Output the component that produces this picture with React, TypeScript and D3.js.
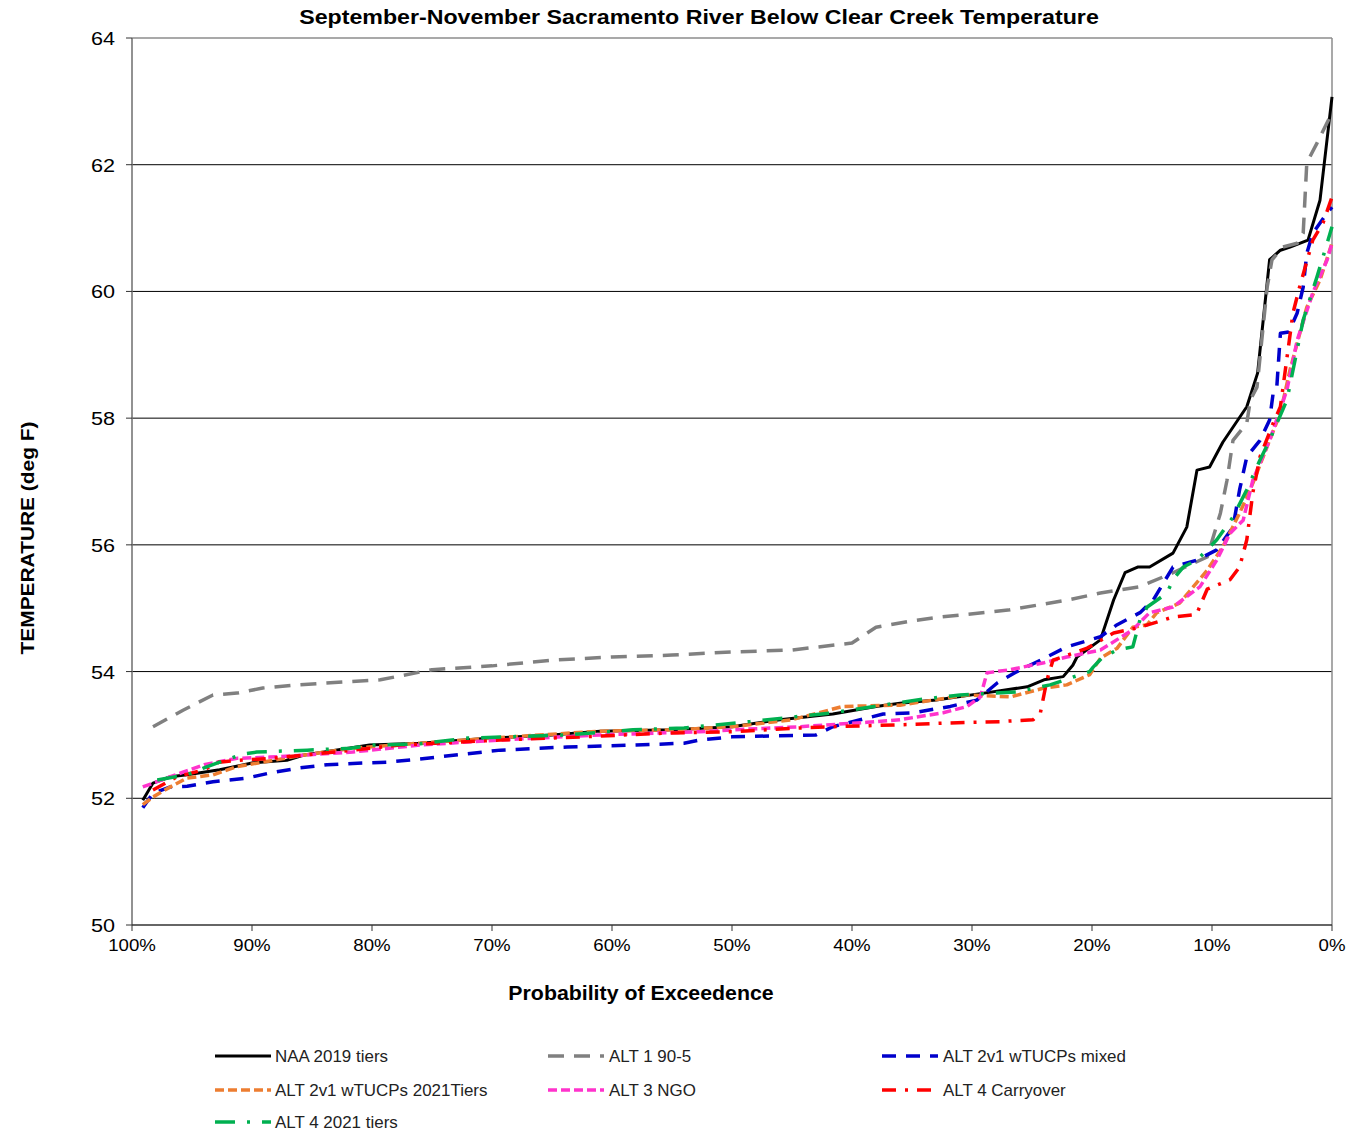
import * as d3 from "d3"

// probability of exceedence (%) vs temperature (deg F)
const naa2019Tiers: [number, number][] = [
  [99.1, 51.97], [98.25, 52.24], [96.8, 52.34], [95.4, 52.37], [92.7, 52.45], [89.9, 52.56], [87.1, 52.6],
  [85.75, 52.68], [80.2, 52.84], [76, 52.87], [70, 52.95], [65, 53.0], [61, 53.06], [55, 53.08], [50, 53.13],
  [46, 53.24], [41.6, 53.33], [38, 53.45], [36, 53.5], [33, 53.55], [29, 53.66], [25.4, 53.76], [24, 53.87],
  [22.4, 53.92], [21.6, 54.1], [21.25, 54.23], [19.3, 54.5], [18.2, 55.13], [17.25, 55.56], [16.2, 55.65],
  [15.2, 55.65], [13.25, 55.87], [12.1, 56.28], [11.25, 57.18], [10.2, 57.23], [9.1, 57.62], [7.1, 58.18],
  [6.2, 58.71], [5.2, 60.5], [4.3, 60.65], [3.5, 60.7], [2.0, 60.81], [1.0, 61.44], [0, 63.07],
]

const alt1905: [number, number][] = [
  [98.25, 53.13], [95.75, 53.39], [93.25, 53.63], [91.25, 53.66], [89.1, 53.74], [86.25, 53.79], [82, 53.84],
  [79.3, 53.87], [75, 54.03], [70, 54.09], [65, 54.18], [60, 54.23], [55, 54.26], [50, 54.31], [45, 54.34],
  [40, 54.45], [38, 54.7], [35, 54.8], [32.7, 54.86], [27, 54.97], [22, 55.13], [19.3, 55.24], [16, 55.34],
  [13.25, 55.56], [10.4, 55.81], [9.3, 56.5], [8.75, 57.02], [8.25, 57.65], [7.1, 57.92], [6.8, 58.29],
  [6.25, 58.49], [5.4, 60.07], [5, 60.5], [4.1, 60.7], [2.9, 60.76], [2.4, 60.92], [2.1, 62.03], [1.25, 62.34],
  [0, 62.82],
]

const alt2v1Mixed: [number, number][] = [
  [99.1, 51.85], [98.25, 52.08], [96.8, 52.18], [95.4, 52.19], [93.25, 52.26], [90.4, 52.32], [88.5, 52.4],
  [86, 52.48], [83.75, 52.53], [81.6, 52.55], [78.75, 52.57], [76, 52.62], [69.3, 52.76], [63.75, 52.81],
  [58, 52.84], [54, 52.87], [52.7, 52.92], [50, 52.97], [43, 53.0], [41.6, 53.13], [37.4, 53.33], [34.9, 53.35],
  [31.8, 53.45], [29.6, 53.55], [27.9, 53.82], [26.25, 54.0], [24.3, 54.18], [22.1, 54.39], [19.3, 54.55],
  [17.9, 54.74], [16, 54.93], [14.9, 55.13], [13.25, 55.65], [11.25, 55.76], [9.6, 55.92], [8.25, 56.28],
  [7.7, 56.87], [7.1, 57.39], [6, 57.65], [5.2, 57.97], [4.9, 58.4], [4.6, 58.49], [4.3, 59.34], [3.6, 59.36],
  [2.9, 59.66], [2.4, 60.07], [2.1, 60.6], [1.6, 60.92], [0.4, 61.24], [0, 61.33],
]

const alt2v12021Tiers: [number, number][] = [
  [99.1, 51.9], [98.25, 52.02], [96.8, 52.18], [95.4, 52.32], [93.25, 52.37], [91.25, 52.5], [89.1, 52.57],
  [85.75, 52.68], [81.6, 52.79], [76, 52.87], [70, 52.95], [61, 53.06], [55, 53.08], [50, 53.13], [45, 53.24],
  [40.75, 53.45], [36, 53.47], [34.3, 53.52], [30.4, 53.63], [26.8, 53.6], [24, 53.74], [22.1, 53.79],
  [20.2, 53.95], [19.3, 54.21], [17.9, 54.37], [16.6, 54.7], [15.4, 54.74], [14.6, 54.93], [12.7, 55.08],
  [10.4, 55.6], [9.1, 55.97], [7.7, 56.5], [6.6, 56.97], [5.2, 57.65], [4.3, 58.08], [3.5, 58.76], [2.1, 59.75],
  [1, 60.18], [0, 60.76],
]

const alt3Ngo: [number, number][] = [
  [99.1, 52.18], [96.8, 52.34], [94, 52.53], [91.25, 52.63], [88.5, 52.65], [85.75, 52.68], [81.6, 52.73],
  [76, 52.84], [69.3, 52.92], [61, 53.0], [52.7, 53.05], [50, 53.08], [44.3, 53.13], [38.75, 53.2], [36, 53.24],
  [32.4, 53.35], [30.4, 53.45], [29.3, 53.6], [28.75, 53.98], [26.8, 54.03], [24, 54.14], [22.1, 54.23],
  [19.3, 54.34], [16.6, 54.66], [15.2, 54.93], [13.25, 55.02], [11, 55.34], [9.6, 55.76], [8.5, 56.18],
  [7.4, 56.39], [6.6, 57.02], [5.2, 57.65], [3.75, 58.45], [2.9, 59.23], [1.6, 59.98], [0.4, 60.5], [0, 60.76],
]

const alt4Carryover: [number, number][] = [
  [98.25, 52.13], [96.25, 52.34], [94, 52.45], [92.75, 52.57], [91, 52.6], [88.5, 52.63], [85.75, 52.68],
  [81.6, 52.76], [77.7, 52.84], [69.3, 52.92], [62.4, 52.97], [55.4, 53.03], [50, 53.05], [44.3, 53.11],
  [41.6, 53.13], [36, 53.16], [31.8, 53.19], [27.7, 53.21], [24.9, 53.24], [24.3, 53.35], [23.75, 53.87],
  [23.25, 54.18], [21.6, 54.29], [20.4, 54.37], [18.2, 54.61], [16, 54.7], [13.25, 54.86], [11.3, 54.9],
  [10.4, 55.3], [8.5, 55.45], [7.7, 55.65], [7.1, 56.08], [6.6, 56.82], [6, 57.39], [4.9, 57.92], [4.3, 58.18],
  [3.25, 59.66], [2.7, 60.07], [1.6, 60.81], [0.75, 61.08], [0, 61.49],
]

const alt42021Tiers: [number, number][] = [
  [97.9, 52.29], [95.4, 52.37], [94, 52.48], [92.7, 52.57], [90.75, 52.7], [89.6, 52.73], [86.8, 52.75],
  [85.4, 52.76], [81.8, 52.79], [80, 52.84], [76, 52.86], [72, 52.95], [63.75, 53.0], [58.25, 53.08],
  [54, 53.11], [48.5, 53.21], [41.6, 53.35], [34.3, 53.56], [31, 53.63], [26.25, 53.68], [23.5, 53.79],
  [20.2, 54.0], [19.9, 54.07], [19.1, 54.23], [17.9, 54.34], [16.6, 54.39], [16, 54.82], [15.4, 55.02],
  [13.75, 55.24], [13.25, 55.45], [12.4, 55.65], [11.25, 55.76], [9.6, 56.08], [8.25, 56.44], [7.1, 56.87],
  [6, 57.34], [5.2, 57.65], [3.75, 58.29], [2.4, 59.55], [1.25, 60.23], [0, 61.02],
]

const seriesNames = [
  "NAA 2019 tiers",
  "ALT 1 90-5",
  "ALT 2v1 wTUCPs mixed",
  "ALT 2v1 wTUCPs 2021Tiers",
  "ALT 3 NGO",
  "ALT 4 Carryover",
  "ALT 4 2021 tiers",
]
const seriesData = [naa2019Tiers, alt1905, alt2v1Mixed, alt2v12021Tiers, alt3Ngo, alt4Carryover, alt42021Tiers]
const seriesColors = ["#000000", "#808080", "#0000CC", "#ED7D31", "#FF33CC", "#FF0000", "#00B050"]
const seriesDash = ["", "16,10", "14,10", "9,4", "9,4", "14,9,3,9", "20,12,3,12"]
const seriesWidth = [3, 3.5, 3.5, 3.5, 3.5, 3.5, 3.5]

const yTicks = [50, 52, 54, 56, 58, 60, 62, 64]
const xTicks = [100, 90, 80, 70, 60, 50, 40, 30, 20, 10, 0]

const font = "'Liberation Sans', Arial, sans-serif"

// text stretched horizontally a bit, like the source rendering
const Label = ({ x, y, sx = 1.15, anchor = "start", size, bold = false, fill = "#000", rotate = 0, children }: any) => (
  <text
    transform={`translate(${x},${y}) rotate(${rotate}) scale(${sx},1)`}
    textAnchor={anchor}
    fontSize={size}
    fontWeight={bold ? "bold" : "normal"}
    fill={fill}
  >
    {children}
  </text>
)

export default function App() {
  const width = 1348
  const height = 1131
  const m = { left: 132, right: 1332, top: 38, bottom: 925 }

  const x = d3.scaleLinear().domain([100, 0]).range([m.left, m.right])
  const y = d3.scaleLinear().domain([50, 64]).range([m.bottom, m.top])
  const line = d3
    .line<[number, number]>()
    .x((d) => x(d[0]))
    .y((d) => y(d[1]))

  // legend layout: 3 columns
  const legendCols = [215, 548, 882]
  const legendRows = [1056, 1090, 1122]

  return (
    <svg
      width={width}
      height={height}
      style={{ position: "absolute", left: 0, top: 0, background: "#fff" }}
      fontFamily={font}
    >
      <Label x={699} y={24} anchor="middle" size={20} bold sx={1.16}>
        September-November Sacramento River Below Clear Creek Temperature
      </Label>

      {/* gridlines */}
      {yTicks.slice(1, -1).map((t) => (
        <line key={t} x1={m.left} x2={m.right} y1={y(t)} y2={y(t)} stroke="#000" strokeWidth={1} />
      ))}
      {/* frame */}
      <line x1={m.left} x2={m.right} y1={m.top} y2={m.top} stroke="#8c8c8c" strokeWidth={1.5} />
      <line x1={m.right} x2={m.right} y1={m.top} y2={m.bottom} stroke="#8c8c8c" strokeWidth={1.5} />
      <line x1={m.left} x2={m.left} y1={m.top} y2={m.bottom} stroke="#6e6e6e" strokeWidth={1.5} />
      <line x1={m.left} x2={m.right} y1={m.bottom} y2={m.bottom} stroke="#333" strokeWidth={1.5} />

      {/* y axis */}
      {yTicks.map((t) => (
        <g key={t}>
          <line x1={m.left - 6} x2={m.left} y1={y(t)} y2={y(t)} stroke="#333" strokeWidth={1} />
          <Label x={115} y={y(t) + 7} anchor="end" size={18} sx={1.2}>
            {t}
          </Label>
        </g>
      ))}
      {/* x axis */}
      {xTicks.map((t) => (
        <g key={t}>
          <line x1={x(t)} x2={x(t)} y1={m.bottom} y2={m.bottom + 6} stroke="#333" strokeWidth={1} />
          <Label x={x(t)} y={m.bottom + 26} anchor="middle" size={16.5} sx={1.13}>
            {t}%
          </Label>
        </g>
      ))}

      <Label x={34} y={538} anchor="middle" size={19} bold rotate={-90} sx={1.1}>
        TEMPERATURE (deg F)
      </Label>
      <Label x={641} y={1000} anchor="middle" size={20.5} bold sx={1.04}>
        Probability of Exceedence
      </Label>

      {/* series */}
      {seriesData.map((d, i) => (
        <path
          key={seriesNames[i]}
          d={line(d) ?? ""}
          fill="none"
          stroke={seriesColors[i]}
          strokeWidth={seriesWidth[i]}
          strokeDasharray={seriesDash[i] || undefined}
          strokeLinejoin="round"
        />
      ))}

      {/* legend */}
      {seriesNames.map((name, i) => {
        const cx = legendCols[i % 3]
        const cy = legendRows[Math.floor(i / 3)]
        return (
          <g key={name}>
            <line
              x1={cx}
              x2={cx + 56}
              y1={cy}
              y2={cy}
              stroke={seriesColors[i]}
              strokeWidth={seriesWidth[i]}
              strokeDasharray={seriesDash[i] || undefined}
            />
            <Label x={cx + (i % 3 === 0 ? 60 : 61)} y={cy + 6} size={16} sx={1.06} fill="#222">
              {name}
            </Label>
          </g>
        )
      })}
    </svg>
  )
}
